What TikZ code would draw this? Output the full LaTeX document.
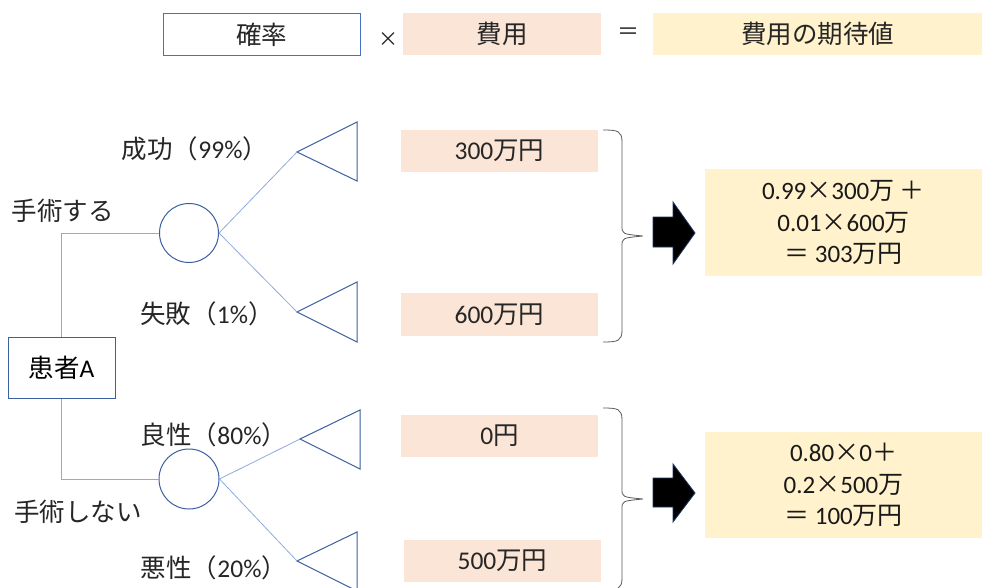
\documentclass[tikz,border=0pt]{standalone}
\usepackage{fontspec}
\setmainfont{Carlito}
\newfontfamily\jp{Noto Sans CJK JP}
\definecolor{hdrblue}{HTML}{4472C4}
\definecolor{shapeblue}{HTML}{3B5FA0}
\definecolor{connblue}{HTML}{8FAADC}
\definecolor{peach}{HTML}{FBE5D6}
\definecolor{cream}{HTML}{FFF2CC}
\definecolor{bracegray}{HTML}{595959}
\definecolor{arrowedge}{HTML}{203864}
\tikzset{
  box/.style={minimum width=197pt, minimum height=42pt, inner sep=0pt, text=black!85},
  costbox/.style={box, fill=peach},
  resbox/.style={minimum width=277pt, minimum height=107pt, inner sep=0pt, fill=cream, align=center, text=black!90,
     font=\fontsize{25}{31.5}\selectfont},
  chance/.style={circle, draw=shapeblue, line width=1pt, minimum size=59pt, inner sep=0pt},
  endtri/.style={draw=shapeblue, line width=1pt, line join=miter},
  conn/.style={draw=connblue, line width=0.8pt},
  lbl/.style={inner sep=0pt, text=black!85},
  bracestyle/.style={draw=bracegray, line width=0.8pt},
  blockarrow/.style={fill=black, draw=arrowedge, line width=0.8pt, line join=miter}
}
\begin{document}
\begin{tikzpicture}[x=1pt,y=-1pt, font=\fontsize{25.5}{30}\selectfont]
\useasboundingbox (0,0) rectangle (982,588);

% header
\node[box, draw=hdrblue, line width=1pt] (hprob) at (261.5,34.5) {\jp 確率};
\node[lbl, font=\fontsize{20}{24}\selectfont] (htimes) at (388,40) {\jp ×};
\node[costbox, minimum width=198pt] (hcost) at (502,34) {\jp 費用};
\node[lbl, font=\fontsize{22}{26}\selectfont] (heq) at (628,34) {\jp ＝};
\node[box, fill=cream, minimum width=329pt] (hexp) at (817.5,34) {\jp 費用の期待値};

% tree
\node[draw=shapeblue, line width=1pt, minimum width=107pt, minimum height=61pt, inner sep=0pt] (pa) at (61.5,367.5) {{\jp 患者}A};
\node[chance] (c1) at (189,233) {};
\node[chance, minimum size=60pt] (c2) at (189,479) {};
\draw[conn] (pa.north) |- (c1.west);
\draw[conn] (pa.south) |- (c2.west);

\coordinate (t1) at (297,152);
\coordinate (t2) at (297,312);
\coordinate (t3) at (300,439);
\coordinate (t4) at (297,561);
\draw[endtri] (t1) -- (357,122) -- (357,181) -- cycle;
\draw[endtri] (t2) -- (357,282) -- (357,342) -- cycle;
\draw[endtri] (t3) -- (360,410) -- (360,469) -- cycle;
\draw[endtri] (t4) -- (357,532) -- (357,591) -- cycle;
\draw[conn] (c1.east) -- (t1);
\draw[conn] (c1.east) -- (t2);
\draw[conn] (c2.east) -- (t3);
\draw[conn] (c2.east) -- (t4);

\node[lbl] (l1) at (63,211) {\jp 手術する};
\node[lbl] (l2) at (78,512) {\jp 手術しない};
\node[lbl] (p1) at (195,149) {{\jp 成功（}99\%{\jp ）}};
\node[lbl] (p2) at (207,314) {{\jp 失敗（}1\%{\jp ）}};
\node[lbl] (p3) at (214,435) {{\jp 良性（}80\%{\jp ）}};
\node[lbl] (p4) at (214,568) {{\jp 悪性（}20\%{\jp ）}};

% costs
\node[costbox] (k1) at (499.5,151) {300{\jp 万円}};
\node[costbox, minimum height=43pt] (k2) at (499.5,314.5) {600{\jp 万円}};
\node[costbox] (k3) at (499.5,436) {0{\jp 円}};
\node[costbox] (k4) at (502.5,561) {500{\jp 万円}};

% braces
\draw[bracestyle] (603,130) .. controls (618,130) and (622,131) .. (622,142) -- (622,226)
   .. controls (622,234) .. (643,236) .. controls (622,238) .. (622,246) -- (622,330)
   .. controls (622,341) and (618,342) .. (603,342);
\draw[bracestyle] (603,408) .. controls (618,408) and (622,409) .. (622,420) -- (622,489)
   .. controls (622,497) .. (643,499) .. controls (622,501) .. (622,509) -- (622,578)
   .. controls (622,589) and (618,590) .. (603,590);

% arrows
\draw[blockarrow] (653,217) -- (673,217) -- (673,202) -- (695,233) -- (673,264) -- (673,247) -- (653,247) -- cycle;
\draw[blockarrow] (653,478) -- (673,478) -- (673,464) -- (695,493) -- (673,522) -- (673,507) -- (653,507) -- cycle;

% results
\node[resbox] (r1) at (843.5,222.5) {0.99{\jp ×}300{\jp 万 ＋}\\0.01{\jp ×}600{\jp 万}\\{\jp ＝} 303{\jp 万円}};
\node[resbox, minimum height=106pt] (r2) at (843.5,485) {0.80{\jp ×}0{\jp ＋}\\0.2{\jp ×}500{\jp 万}\\{\jp ＝} 100{\jp 万円}};
\end{tikzpicture}
\end{document}
